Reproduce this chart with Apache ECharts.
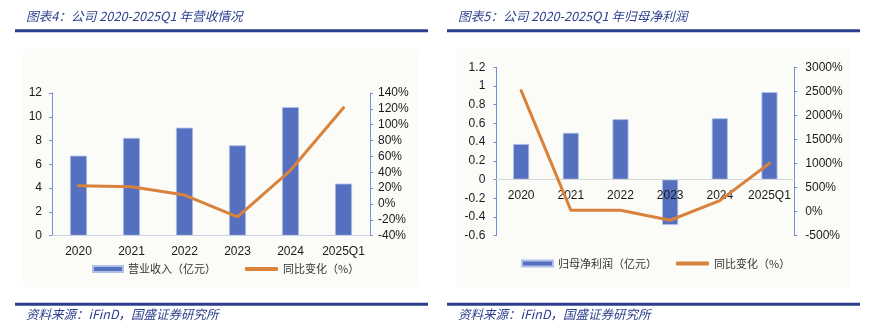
<!DOCTYPE html>
<html>
<head>
<meta charset="utf-8">
<script src="https://cdn.jsdelivr.net/npm/echarts@6/dist/echarts.min.js"></script>
<style>
  html, body { margin: 0; padding: 0; background: #ffffff; }
  #chart { width: 874px; height: 333px; }
</style>
</head>
<body>
<div id="chart"></div>
<script>
// Categories shared by both panels
const years = ['2020', '2021', '2022', '2023', '2024', '2025Q1'];

// Panel 1: revenue (亿元) and year-over-year change (%)
const revenue = [6.73, 8.22, 9.08, 7.60, 10.82, 4.38];
const revenueYoY = [23.1, 21.8, 11.3, -16.3, 42.5, 121.5];

// Panel 2: net profit attributable to parent (亿元) and year-over-year change (%)
const netProfit = [0.38, 0.50, 0.645, -0.485, 0.655, 0.935];
const netProfitYoY = [2515, 30, 29, -179, 229, 1005];

// Value-axis ranges
const revenueRange = { min: 0, max: 12, interval: 2 };
const revenueYoYRange = { min: -40, max: 140, interval: 20 };
const profitRange = { min: -0.6, max: 1.2, interval: 0.2 };
const profitYoYRange = { min: -500, max: 3000, interval: 500 };

// Texts
const titles = ['图表4：公司 2020-2025Q1 年营收情况', '图表5：公司 2020-2025Q1 年归母净利润'];
const barNames = ['营业收入（亿元）', '归母净利润（亿元）'];
const lineNames = ['同比变化（%）', '同比变化（%） '];
const sourceText = '资料来源：iFinD，国盛证券研究所';

const NAVY = '#2b3f8c';
const BAR = '#5670c0';
const LINE = '#d9823c';
const AXIS_BLUE = '#7390d6';
const LABEL_FONT = '"Liberation Sans", Arial, sans-serif';
const CJK_FONT = '"Noto Sans CJK SC", sans-serif';

const W = 874, H = 333;
const grids = [
  { left: 52, right: 504, top: 93, bottom: 97.3 },
  { left: 496.3, right: 79.7, top: 67.3, bottom: 97.3 }
];

// Lift a bottom category axis up to the value-axis zero line
function zeroOffset(grid, range) {
  const h = H - grid.top - grid.bottom;
  return -h * (0 - range.min) / (range.max - range.min);
}

const chart = echarts.init(document.getElementById('chart'), null, { renderer: 'canvas' });

function rule(x1, x2, y) {
  return { type: 'rect', shape: { x: x1, y: y - 1.5, width: x2 - x1, height: 3 }, style: { fill: NAVY }, silent: true };
}
function italicText(x, y, text, size) {
  return {
    type: 'text', x: x, y: y,
    style: {
      text: text, fill: NAVY, font: 'italic ' + size + 'px ' + CJK_FONT,
      verticalAlign: 'middle', align: 'left'
    },
    silent: true
  };
}
function legendItem(left, top, name, icon, w, h) {
  return {
    left: left, top: top, padding: 0, itemWidth: w, itemHeight: h, itemGap: 0,
    textStyle: { fontSize: 11, color: '#333', fontFamily: CJK_FONT },
    data: [{ name: name, icon: icon }]
  };
}
const pct = v => v + '%';

const valueAxisBase = {
  type: 'value',
  splitLine: { show: false },
  axisLine: { show: true, lineStyle: { color: AXIS_BLUE, width: 1 } },
  axisTick: { show: true, length: 3, lineStyle: { color: AXIS_BLUE } },
  axisLabel: { color: '#1a1a1a', fontSize: 12, fontFamily: LABEL_FONT }
};

function valueAxis(range, extra) {
  const a = Object.assign({}, valueAxisBase, range, extra);
  a.axisLabel = Object.assign({}, valueAxisBase.axisLabel, extra.axisLabel || {});
  return a;
}

// Category axis sits above the bars but below the growth line
const catAxis = (grid, lineColor, offset) => ({
  type: 'category', gridIndex: grid, data: years, position: 'bottom', offset: offset, z: 3,
  axisLine: { show: true, onZero: false, lineStyle: { color: lineColor } },
  axisTick: { show: false },
  axisLabel: { color: '#1a1a1a', fontSize: 12, fontFamily: LABEL_FONT, margin: 10, interval: 0 }
});

const barStyle = { color: BAR, borderColor: '#b0c0e8', borderWidth: 0.8 };
const lineStyle = { color: LINE, width: 3, cap: 'round', join: 'round' };

const option = {
  animation: false,
  backgroundColor: '#ffffff',
  graphic: [
    // light panels behind each chart
    { type: 'rect', shape: { x: 23, y: 49, width: 396, height: 238 }, style: { fill: '#fbfbf8' }, silent: true, z: -10 },
    { type: 'rect', shape: { x: 456, y: 49, width: 394, height: 238 }, style: { fill: '#fbfbf8' }, silent: true, z: -10 },
    rule(15, 428, 30.7),
    rule(447, 860, 30.7),
    rule(15, 428, 304.3),
    rule(447, 860, 304.3),
    italicText(26, 16.5, titles[0], 12.7),
    italicText(458, 16.5, titles[1], 12.7),
    italicText(26, 314.5, sourceText, 12.5),
    italicText(458, 314.5, sourceText, 12.5)
  ],
  legend: [
    legendItem(92, 263.5, barNames[0], 'rect', 30, 6),
    legendItem(245, 263.5, lineNames[0], 'roundRect', 33, 4),
    legendItem(521, 258, barNames[1], 'rect', 31, 6),
    legendItem(676, 258, lineNames[1], 'roundRect', 33, 4)
  ],
  grid: grids,
  xAxis: [
    catAxis(0, '#c9d1e3', zeroOffset(grids[0], revenueRange)),
    catAxis(1, '#d6d6d6', zeroOffset(grids[1], profitRange))
  ],
  yAxis: [
    valueAxis(revenueRange, { gridIndex: 0, position: 'left', axisLabel: { margin: 10 } }),
    valueAxis(revenueYoYRange, { gridIndex: 0, position: 'right', axisLabel: { margin: 8, formatter: pct } }),
    valueAxis(profitRange, { gridIndex: 1, position: 'left', axisLabel: { margin: 11 } }),
    valueAxis(profitYoYRange, { gridIndex: 1, position: 'right', axisLabel: { margin: 11, formatter: pct } })
  ],
  series: [
    {
      name: barNames[0], type: 'bar', xAxisIndex: 0, yAxisIndex: 0, data: revenue,
      barWidth: 17, z: 1, itemStyle: barStyle
    },
    {
      name: lineNames[0], type: 'line', xAxisIndex: 0, yAxisIndex: 1, data: revenueYoY,
      symbol: 'none', z: 5, lineStyle: lineStyle, itemStyle: { color: LINE }
    },
    {
      name: barNames[1], type: 'bar', xAxisIndex: 1, yAxisIndex: 2, data: netProfit,
      barWidth: 16, z: 1, itemStyle: barStyle
    },
    {
      name: lineNames[1], type: 'line', xAxisIndex: 1, yAxisIndex: 3, data: netProfitYoY,
      symbol: 'none', z: 5, lineStyle: lineStyle, itemStyle: { color: LINE }
    }
  ]
};

chart.setOption(option);
</script>
</body>
</html>
